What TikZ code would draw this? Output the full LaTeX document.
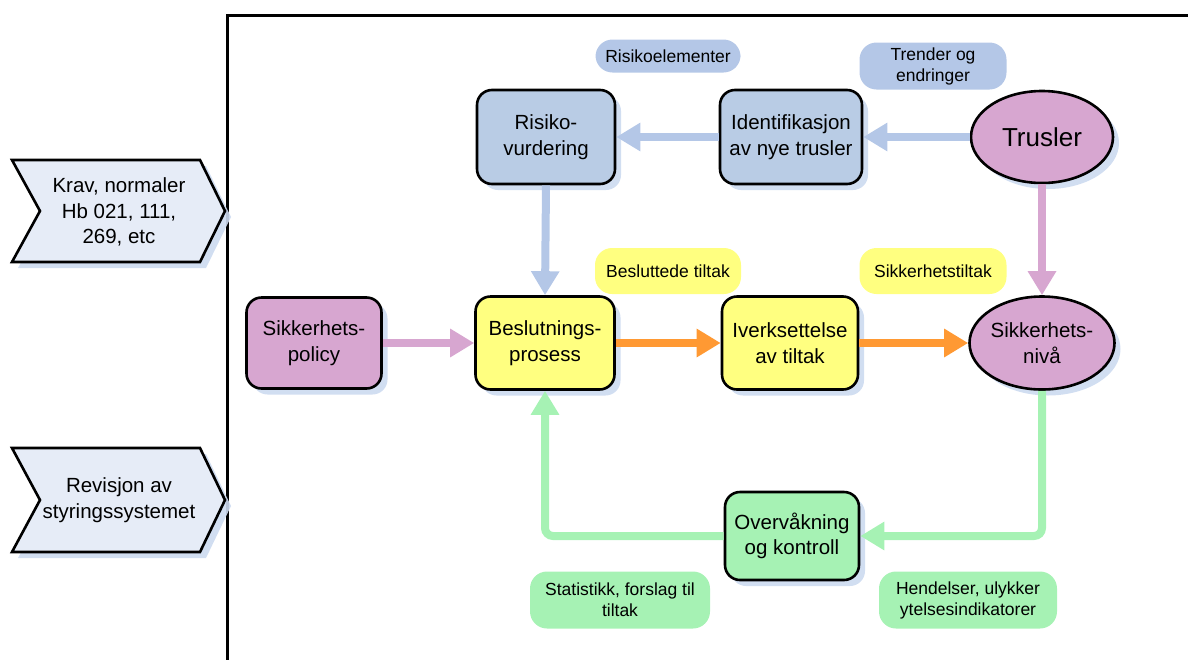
\documentclass[tikz,border=0pt]{standalone}
\usepackage{fontspec}
\setmainfont{Liberation Sans}
\usetikzlibrary{shapes.geometric,arrows.meta,shadows}

\definecolor{boxblue}{RGB}{185,204,229}
\definecolor{tagblue}{RGB}{180,199,231}
\definecolor{arrblue}{RGB}{180,199,231}
\definecolor{boxpurple}{RGB}{215,166,208}
\definecolor{boxyellow}{RGB}{255,255,128}
\definecolor{boxgreen}{RGB}{166,242,180}
\definecolor{arrorange}{RGB}{255,153,51}
\definecolor{chevfill}{RGB}{230,236,247}
\definecolor{shadowblue}{RGB}{204,218,240}

\newcommand{\mainsz}{\fontsize{20.5}{25.5}\selectfont}
\newcommand{\tagsz}{\fontsize{17.5}{21}\selectfont}

\tikzset{
  shadowed/.style={drop shadow={shadow xshift=6pt, shadow yshift=-6pt, fill=shadowblue, opacity=0.9}},
  stepbox/.style={draw=black, line width=2.6pt, rounded corners=15pt, align=center,
    font=\mainsz, inner sep=0pt, shadowed},
  oval/.style={draw=black, line width=2.6pt, ellipse, align=center, font=\mainsz,
    inner sep=0pt, shadowed},
  tag/.style={rounded corners=17pt, align=center, font=\tagsz, inner sep=0pt},
  flow/.style={line width=8pt, -{Triangle[length=24pt,width=27pt]}},
  chev/.style={draw=black, line width=2.6pt, fill=chevfill, line join=miter},
  chevshadow/.style={fill=shadowblue, opacity=0.9}
}

\begin{document}
\begin{tikzpicture}[x=1pt,y=-1pt]
\useasboundingbox (0,0) rectangle (1188,659);

% outer frame
\draw[line width=3pt] (227,661) -- (227,15) -- (1190,15);

% chevrons on the left
\fill[chevshadow] (18,166) -- (206,166) -- (231,217) -- (206,268) -- (18,268) -- (46,217) -- cycle;
\draw[chev] (12,160) -- (200,160) -- (225,211) -- (200,262) -- (12,262) -- (40,211) -- cycle;
\node[align=center, font=\mainsz] (krav) at (119,212) {Krav, normaler\\Hb 021, 111,\\269, etc};

\fill[chevshadow] (18,454) -- (206,454) -- (231,506) -- (206,558) -- (18,558) -- (46,506) -- cycle;
\draw[chev] (12,448) -- (200,448) -- (225,500) -- (200,552) -- (12,552) -- (40,500) -- cycle;
\node[align=center, font=\mainsz] (revisjon) at (119,500) {Revisjon av\\styringssystemet};

% main steps
\node[stepbox, fill=boxblue, minimum width=138pt, minimum height=94pt] (risk) at (546,137) {Risiko-\\vurdering};
\node[stepbox, fill=boxblue, minimum width=142pt, minimum height=94pt] (ident) at (791,137) {Identifikasjon\\av nye trusler};
\node[oval, fill=boxpurple, minimum width=142pt, minimum height=92pt, font=\fontsize{26}{30}\selectfont] (trusler) at (1042,137) {Trusler};

\node[stepbox, fill=boxpurple, minimum width=135pt, minimum height=91pt] (policy) at (314,343) {Sikkerhets-\\policy};
\node[stepbox, fill=boxyellow, minimum width=139pt, minimum height=93pt] (besl) at (545,343) {Beslutnings-\\prosess};
\node[stepbox, fill=boxyellow, minimum width=136pt, minimum height=93pt] (iverk) at (790,343) {Iverksettelse\\av tiltak};
\node[oval, fill=boxpurple, minimum width=143pt, minimum height=93pt] (niva) at (1042,343) {Sikkerhets-\\nivå};

\node[stepbox, fill=boxgreen, minimum width=134pt, minimum height=88pt] (overv) at (792,536) {Overvåkning\\og kontroll};

% tags
\node[tag, fill=tagblue, minimum width=145pt, minimum height=33pt] (tagrisk) at (668,56) {Risikoelementer};
\node[tag, fill=tagblue, minimum width=147pt, minimum height=47pt] (tagtrend) at (933,66) {Trender og\\endringer};
\node[tag, fill=boxyellow, minimum width=146pt, minimum height=46pt] (tagbesl) at (668,271) {Besluttede tiltak};
\node[tag, fill=boxyellow, minimum width=147pt, minimum height=46pt] (tagsikk) at (933,271) {Sikkerhetstiltak};
\node[tag, fill=boxgreen, minimum width=180pt, minimum height=57pt] (tagstat) at (620,600) {Statistikk, forslag til\\tiltak};
\node[tag, fill=boxgreen, minimum width=178pt, minimum height=57pt] (taghend) at (968,600) {Hendelser, ulykker\\ytelsesindikatorer};

% connectors
\draw[flow, arrblue] (trusler.west) -- (ident.east);
\draw[flow, arrblue] (ident.west) -- (risk.east);
\draw[flow, arrblue] (risk.south) -- (besl.north);
\draw[flow, boxpurple] (trusler.south) -- (niva.north);
\draw[flow, boxpurple] (policy.east) -- (besl.west);
\draw[flow, arrorange] (besl.east) -- (iverk.west);
\draw[flow, arrorange] (iverk.east) -- (niva.west);
\draw[flow, boxgreen, rounded corners=8pt] (niva.south) |- (overv.east);
\draw[flow, boxgreen, rounded corners=8pt] (overv.west) -| (besl.south);
\end{tikzpicture}
\end{document}
